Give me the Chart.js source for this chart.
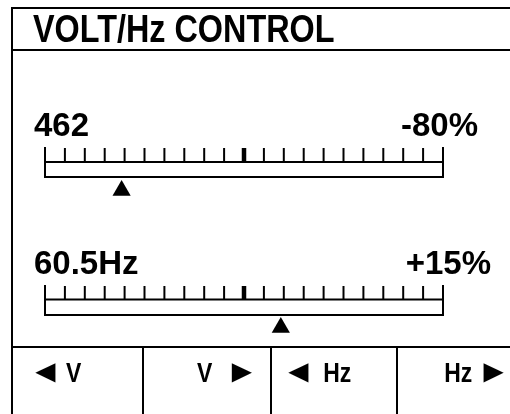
<!DOCTYPE html>
<html>
<head>
<meta charset="utf-8">
<style>
  html, body { margin: 0; padding: 0; background: #fff; }
  #panel { display: block; }
</style>
</head>
<body>
<canvas id="panel" width="510" height="414"></canvas>

<script src="https://cdn.jsdelivr.net/npm/chart.js"></script>
<script>
  // dados do display
  const titulo = 'VOLT/Hz CONTROL';
  const nomesEscala = ['462', '60.5Hz'];
  const leituras = ['-80%', '+15%'];
  const divisoes = 20;            // 21 marcas, a do meio mais grossa
  const posicaoCursor = [3.85, 11.85];
  const teclas = ['◄ V', 'V ►', '◄ Hz', 'Hz ►'];

  // layout (pixels)
  const linhas = [
    { topoMarca: 147, base: 162, fundo: 177, cursorY: 190.5, textoY: 136, leituraX: 478 },
    { topoMarca: 285, base: 299.5, fundo: 315, cursorY: 327.5, textoY: 274, leituraX: 491 }
  ];
  const colunas = [12, 143, 271, 397, 510];
  const teclaPos = [
    { x: 35, gap: 10 }, { x: 197, gap: 19 },
    { x: 288, gap: 15 }, { x: 445, gap: 12 }
  ];

  const FONTE = '"Liberation Sans", Arial, sans-serif';

  function textoEstreito(ctx, txt, x, y, tam, fator, align) {
    ctx.save();
    ctx.font = 'bold ' + tam + 'px ' + FONTE;
    ctx.textBaseline = 'alphabetic';
    const w = ctx.measureText(txt).width * fator;
    let x0 = x;
    if (align === 'right') x0 = x - w;
    ctx.translate(x0, y);
    ctx.scale(fator, 1);
    ctx.textAlign = 'left';
    ctx.fillText(txt, 0, 0);
    ctx.restore();
  }

  // tecla: seta e texto posicionados pela tinta (bounding box)
  function desenhaTecla(ctx, txt, pos, y) {
    let cx = pos.x;
    txt.split(' ').forEach(p => {
      const seta = (p === '◄' || p === '►');
      const tam = seta ? 32 : 28;
      const fator = seta ? 1.05 : 0.82;
      ctx.save();
      ctx.font = 'bold ' + tam + 'px ' + FONTE;
      ctx.textBaseline = 'alphabetic';
      const m = ctx.measureText(p);
      const esq = m.actualBoundingBoxLeft * fator;
      const tinta = (m.actualBoundingBoxLeft + m.actualBoundingBoxRight) * fator;
      ctx.translate(cx + esq, y);
      ctx.scale(fator, 1);
      ctx.fillText(p, 0, 0);
      ctx.restore();
      cx += tinta + pos.gap;
    });
  }

  const painelPlugin = {
    id: 'painel',
    beforeDraw(chart) {
      const ctx = chart.ctx;
      const sx = chart.scales.x;
      ctx.save();
      ctx.fillStyle = '#fff';
      ctx.fillRect(0, 0, chart.width, chart.height);
      ctx.strokeStyle = '#000';
      ctx.fillStyle = '#000';
      ctx.lineWidth = 2;

      // moldura
      ctx.beginPath();
      ctx.moveTo(12, 414); ctx.lineTo(12, 8); ctx.lineTo(510, 8);
      ctx.moveTo(12, 50); ctx.lineTo(510, 50);
      ctx.moveTo(12, 347); ctx.lineTo(510, 347);
      for (let c = 1; c < colunas.length - 1; c++) {
        ctx.moveTo(colunas[c], 347); ctx.lineTo(colunas[c], 414);
      }
      ctx.stroke();

      textoEstreito(ctx, titulo, 33, 42, 39, 0.83, 'left');

      linhas.forEach((l, i) => {
        const x0 = sx.getPixelForValue(0);
        const x1 = sx.getPixelForValue(divisoes);
        ctx.lineWidth = 2;
        ctx.beginPath();
        ctx.moveTo(x0, l.base); ctx.lineTo(x1, l.base);
        ctx.moveTo(x0, l.fundo); ctx.lineTo(x1, l.fundo);
        ctx.moveTo(x0, l.topoMarca); ctx.lineTo(x0, l.fundo + 1);
        ctx.moveTo(x1, l.topoMarca); ctx.lineTo(x1, l.fundo + 1);
        ctx.stroke();
        for (let k = 1; k < divisoes; k++) {
          const px = sx.getPixelForValue(k);
          ctx.lineWidth = (k === divisoes / 2) ? 4.5 : 2;
          ctx.beginPath();
          ctx.moveTo(px, l.topoMarca + 1); ctx.lineTo(px, l.base);
          ctx.stroke();
        }
        textoEstreito(ctx, nomesEscala[i], 34, l.textoY, 33, 1, 'left');
        textoEstreito(ctx, leituras[i], l.leituraX, l.textoY, 33, 1, 'right');
      });

      teclas.forEach((t, i) => desenhaTecla(ctx, t, teclaPos[i], 382));
      ctx.restore();
    }
  };

  const ctx = document.getElementById('panel').getContext('2d');
  window.painel = new Chart(ctx, {
    type: 'scatter',
    data: {
      datasets: [{
        data: posicaoCursor.map((v, i) => ({ x: v, y: linhas[i].cursorY })),
        pointStyle: 'triangle',
        pointRadius: 10.5,
        pointBackgroundColor: '#000',
        pointBorderWidth: 0,
        pointHoverRadius: 10.5
      }]
    },
    options: {
      responsive: false,
      animation: false,
      events: [],
      devicePixelRatio: 1,
      layout: { padding: { left: 45, right: 67, top: 0, bottom: 0 }, autoPadding: false },
      plugins: { legend: { display: false }, tooltip: { enabled: false } },
      scales: {
        x: { type: 'linear', min: 0, max: divisoes, display: false },
        y: { type: 'linear', min: 0, max: 414, reverse: true, display: false }
      }
    },
    plugins: [painelPlugin]
  });
</script>
</body>
</html>
